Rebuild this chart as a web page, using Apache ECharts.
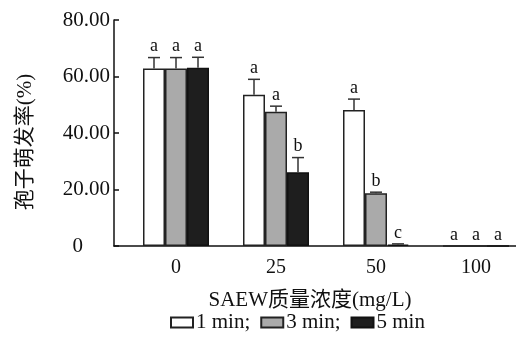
<!DOCTYPE html>
<html>
<head>
<meta charset="utf-8">
<script src="https://cdn.jsdelivr.net/npm/echarts@6/dist/echarts.min.js"></script>
<style>
  html, body { margin: 0; padding: 0; background: #fff; }
  #main { width: 516px; height: 338px; }
</style>
</head>
<body>
<div id="main"></div>
<script>
// SAEW 质量浓度分组
var cats = ['0', '25', '50', '100'];
var seriesNames = ['1 min', '3 min', '5 min'];
// 孢子萌发率 (%)
var v1 = [62.8, 53.5, 48.1, 0];
var v3 = [62.8, 47.5, 18.7, 0];
var v5 = [63.1, 26.1, 0.5, 0];
// 误差
var e1 = [3.9, 5.5, 3.9, 0];
var e3 = [3.9, 2.0, 0.35, 0];
var e5 = [3.7, 5.2, 0.25, 0];
// 显著性字母
var s1 = ['a', 'a', 'a', 'a'];
var s3 = ['a', 'a', 'b', 'a'];
var s5 = ['a', 'b', 'c', 'a'];

var FONT = "'Liberation Serif', 'Noto Sans CJK SC', serif";
var chart = echarts.init(document.getElementById('main'));

function barData(vals) {
  return vals.map(function (v, i) { return [i, v]; });
}
function errSeries(vals, errs, sigs, offset) {
  return {
    type: 'custom',
    z: 5,
    data: vals.map(function (v, i) { return [i, v, errs[i]]; }),
    renderItem: function (params, api) {
      var i = params.dataIndex;
      var x = api.value(0), v = api.value(1), e = api.value(2);
      var base = api.coord([x, v]);
      var top = api.coord([x, v + e]);
      var cx = base[0] + offset;
      var children = [];
      if (e > 0) {
        children.push({ type: 'line', shape: { x1: cx, y1: base[1], x2: cx, y2: top[1] },
          style: { stroke: '#333', lineWidth: 1.5 } });
        children.push({ type: 'line', shape: { x1: cx - 6, y1: top[1], x2: cx + 6, y2: top[1] },
          style: { stroke: '#333', lineWidth: 1.5 } });
      }
      children.push({ type: 'text', style: { text: sigs[i], x: cx, y: top[1] - 2,
        align: 'center', verticalAlign: 'bottom', font: '18px ' + FONT, fill: '#111' } });
      return { type: 'group', children: children };
    }
  };
}

var option = {
  animation: false,
  backgroundColor: '#fff',
  textStyle: { fontFamily: FONT, color: '#111' },
  grid: { left: 114, right: 0, top: 20, bottom: 92 },
  legend: {
    bottom: 0,
    left: 165,
    data: seriesNames,
    itemWidth: 22,
    itemHeight: 10,
    itemGap: 10,
    icon: 'rect',
    formatter: function (n) { return n === '5 min' ? n : n + ';'; },
    textStyle: { fontFamily: FONT, fontSize: 21, color: '#111', padding: [0, 0, 0, -2] }
  },
  xAxis: {
    type: 'value',
    min: -0.62,
    max: 3.4,
    name: 'SAEW质量浓度(mg/L)',
    nameLocation: 'middle',
    nameGap: 44,
    nameTextStyle: { fontFamily: FONT, fontSize: 21, color: '#111', padding: [0, 10, 0, 0] },
    axisLine: { lineStyle: { color: '#111', width: 1.5 } },
    axisTick: { show: false },
    splitLine: { show: false },
    axisLabel: {
      customValues: [0, 1, 2, 3],
      formatter: function (v) { return cats[Math.round(v)]; },
      fontFamily: FONT, fontSize: 20, color: '#111', margin: 12
    }
  },
  yAxis: {
    type: 'value',
    min: 0,
    max: 80,
    interval: 20,
    name: '孢子萌发率(%)',
    nameLocation: 'middle',
    nameGap: 78,
    nameTextStyle: { fontFamily: FONT, fontSize: 21, color: '#111', padding: [0, 18, 0, 0] },
    axisLine: { show: true, onZero: false, lineStyle: { color: '#111', width: 1.5 } },
    axisTick: { show: true, inside: true, length: 5, lineStyle: { color: '#111', width: 1.5 } },
    splitLine: { show: false },
    axisLabel: {
      formatter: function (v) { return v === 0 ? '{z|0}' : v.toFixed(2); },
      fontFamily: FONT, fontSize: 21, color: '#111', margin: 4,
      rich: { z: { fontFamily: FONT, fontSize: 21, color: '#111', padding: [0, 27, 0, 0] } }
    }
  },
  series: [
    { name: '1 min', type: 'bar', barWidth: 22, barGap: '0%', data: barData(v1),
      itemStyle: { color: '#ffffff', borderColor: '#222', borderWidth: 1.5 } },
    { name: '3 min', type: 'bar', barWidth: 22, barGap: '0%', data: barData(v3),
      itemStyle: { color: '#aaaaaa', borderColor: '#222', borderWidth: 1.5 } },
    { name: '5 min', type: 'bar', barWidth: 22, barGap: '0%', data: barData(v5),
      itemStyle: { color: '#1e1e1e', borderColor: '#111', borderWidth: 1.5 } },
    errSeries(v1, e1, s1, -22),
    errSeries(v3, e3, s3, 0),
    errSeries(v5, e5, s5, 22)
  ]
};
chart.setOption(option);
</script>
</body>
</html>
